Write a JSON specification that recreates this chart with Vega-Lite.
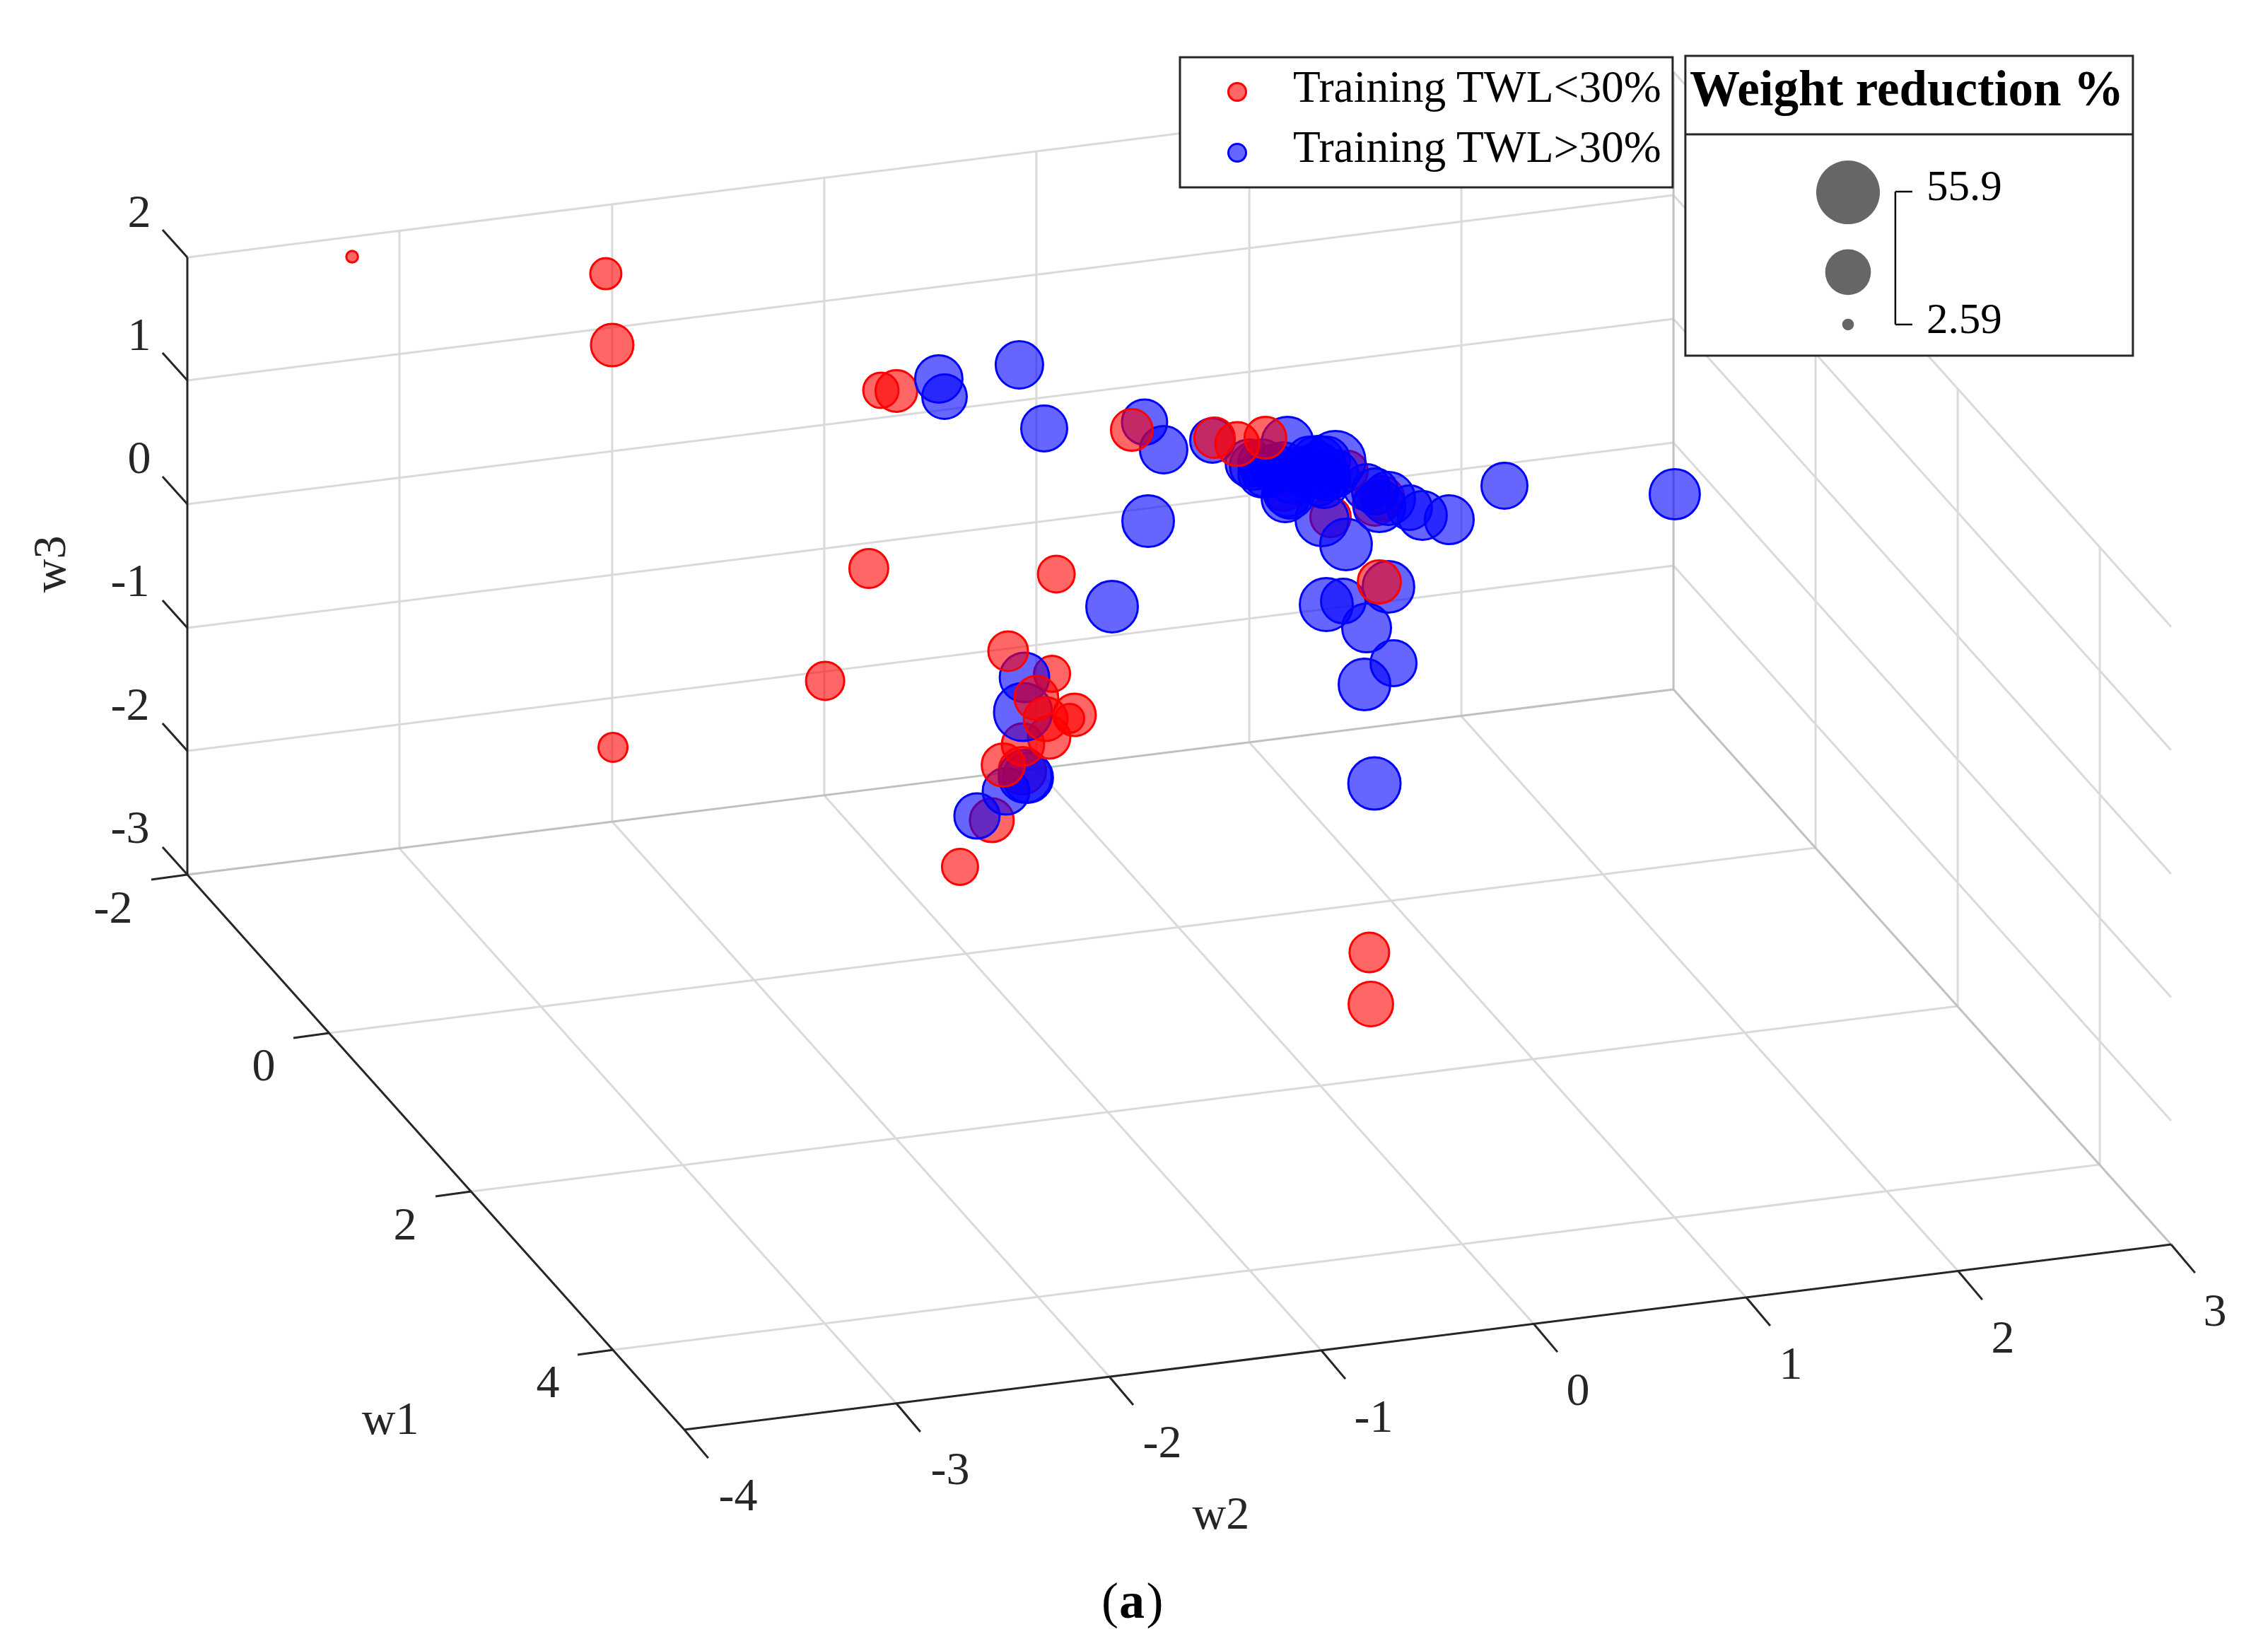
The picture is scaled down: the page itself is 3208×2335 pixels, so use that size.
{"$schema":"https://vega.github.io/schema/vega-lite/v6.json","width":3208,"height":2335,"autosize":{"type":"none"},"padding":0,"background":"white","config":{"view":{"stroke":null}},
"encoding":{"x":{"field":"u","type":"quantitative","scale":{"domain":[-4.8833,5.81],"nice":false,"zero":false},"axis":null},"y":{"field":"v","type":"quantitative","scale":{"domain":[-9.2743,4.0686],"nice":false,"zero":false},"axis":null}},
"layer":[
{"data":{"values":[
{"u":-4,"v":-2,"u2":3.007,"v2":-0.503},{"u":-4,"v":-1.006,"u2":3.007,"v2":0.491},{"u":-4,"v":-0.006,"u2":3.007,"v2":1.491},{"u":-4,"v":0.994,"u2":3.007,"v2":2.491},{"u":-4,"v":1.989,"u2":3.007,"v2":3.489},
{"u":-3,"v":-2.789,"u2":-3,"v2":2.206},{"u":-1.997,"v":-2.571,"u2":-1.997,"v2":2.417},{"u":-0.997,"v":-2.36,"u2":-0.997,"v2":2.634},{"u":0.003,"v":-2.143,"u2":0.003,"v2":2.846},{"u":1.007,"v":-1.931,"u2":1.007,"v2":3.063},{"u":2.007,"v":-1.72,"u2":2.007,"v2":3.274},
{"u":3.007,"v":-0.503,"u2":5.353,"v2":-4.989},{"u":3.007,"v":0.491,"u2":5.353,"v2":-3.992},{"u":3.007,"v":1.491,"u2":5.353,"v2":-2.994},{"u":3.007,"v":2.491,"u2":5.353,"v2":-1.994},{"u":3.007,"v":3.489,"u2":5.353,"v2":-0.997},
{"u":3.677,"v":-2.783,"u2":3.677,"v2":2.211},{"u":4.347,"v":-4.063,"u2":4.347,"v2":0.931},{"u":5.017,"v":-5.343,"u2":5.017,"v2":-0.349},
{"u":-3,"v":-2.789,"u2":-0.657,"v2":-7.274},{"u":-1.997,"v":-2.571,"u2":0.347,"v2":-7.057},{"u":-0.997,"v":-2.36,"u2":1.347,"v2":-6.846},{"u":0.003,"v":-2.143,"u2":2.347,"v2":-6.629},{"u":1.007,"v":-1.931,"u2":3.35,"v2":-6.417},{"u":2.007,"v":-1.72,"u2":4.35,"v2":-6.206},
{"u":-3.33,"v":-4.28,"u2":3.677,"v2":-2.783},{"u":-2.66,"v":-5.56,"u2":4.347,"v2":-4.063},{"u":-1.99,"v":-6.84,"u2":5.017,"v2":-5.343}
]},"mark":{"type":"rule","color":"#dadada","strokeWidth":3},"encoding":{"x2":{"field":"u2"},"y2":{"field":"v2"}}},
{"data":{"values":[{"u":-4,"v":-3,"u2":3.007,"v2":-1.503},{"u":3.007,"v":-1.503,"u2":5.353,"v2":-5.989},{"u":3.007,"v":-1.503,"u2":3.007,"v2":3.489}]},"mark":{"type":"rule","color":"#c0c0c0","strokeWidth":3},"encoding":{"x2":{"field":"u2"},"y2":{"field":"v2"}}},
{"data":{"values":[
{"u":-4,"v":-3,"u2":-4,"v2":1.989},{"u":-4,"v":-3,"u2":-1.657,"v2":-7.486},{"u":-1.657,"v":-7.486,"u2":5.353,"v2":-5.989},
{"u":-4,"v":-3,"u2":-4.117,"v2":-2.777},{"u":-4,"v":-2,"u2":-4.117,"v2":-1.777},{"u":-4,"v":-1.006,"u2":-4.117,"v2":-0.783},{"u":-4,"v":-0.006,"u2":-4.117,"v2":0.217},{"u":-4,"v":0.994,"u2":-4.117,"v2":1.217},{"u":-4,"v":1.989,"u2":-4.117,"v2":2.212},
{"u":-4,"v":-3,"u2":-4.17,"v2":-3.04},{"u":-3.33,"v":-4.28,"u2":-3.5,"v2":-4.32},{"u":-2.66,"v":-5.56,"u2":-2.83,"v2":-5.6},{"u":-1.99,"v":-6.84,"u2":-2.16,"v2":-6.88},
{"u":-1.657,"v":-7.486,"u2":-1.544,"v2":-7.715},{"u":-0.657,"v":-7.274,"u2":-0.544,"v2":-7.503},{"u":0.347,"v":-7.057,"u2":0.46,"v2":-7.286},{"u":1.347,"v":-6.846,"u2":1.46,"v2":-7.075},{"u":2.347,"v":-6.629,"u2":2.46,"v2":-6.858},{"u":3.35,"v":-6.417,"u2":3.463,"v2":-6.646},{"u":4.35,"v":-6.206,"u2":4.463,"v2":-6.435},{"u":5.353,"v":-5.989,"u2":5.466,"v2":-6.218}
]},"mark":{"type":"rule","color":"#262626","strokeWidth":3},"encoding":{"x2":{"field":"u2"},"y2":{"field":"v2"}}},
{"data":{"values":[
{"g":"TWL<30%","u":1.6,"v":0,"w":27.7},{"g":"TWL<30%","u":1.633,"v":0.04,"w":27.7},{"g":"TWL<30%","u":1.47,"v":0.263,"w":22.9},{"g":"TWL<30%","u":1.167,"v":0.109,"w":24.4},{"g":"TWL<30%","u":1.39,"v":-0.109,"w":22.9},
{"g":"TWL<30%","u":-3.223,"v":1.994,"w":2.59},{"g":"TWL<30%","u":-2.027,"v":1.857,"w":13.9},{"g":"TWL<30%","u":-1.997,"v":1.28,"w":25.2},{"g":"TWL<30%","u":-0.73,"v":0.914,"w":17.7},{"g":"TWL<30%","u":-0.657,"v":0.909,"w":24.4},{"g":"TWL<30%","u":-0.787,"v":-0.526,"w":21.3},{"g":"TWL<30%","u":-0.993,"v":-1.434,"w":20.6},{"g":"TWL<30%","u":-1.993,"v":-1.971,"w":12.2},{"g":"TWL<30%","u":-0.357,"v":-2.937,"w":18.4},{"g":"TWL<30%","u":0.097,"v":-0.571,"w":19.1},{"g":"TWL<30%","u":1.573,"v":-3.629,"w":22.1},{"g":"TWL<30%","u":1.58,"v":-4.046,"w":27.7},
{"g":"TWL<30%","u":-0.207,"v":-2.56,"w":26.9},{"g":"TWL<30%","u":-0.063,"v":-2.16,"w":31.3},{"g":"TWL<30%","u":0.077,"v":-1.377,"w":18.4},
{"g":"TWL>30%","u":-0.277,"v":-2.526,"w":28.6},{"g":"TWL>30%","u":-0.14,"v":-2.326,"w":30.4},{"g":"TWL>30%","u":-0.05,"v":-2.206,"w":39},{"g":"TWL>30%","u":-0.037,"v":-2.217,"w":35},
{"g":"TWL<30%","u":-0.06,"v":-1.949,"w":25.2},{"g":"TWL<30%","u":0.063,"v":-1.891,"w":25.2},
{"g":"TWL>30%","u":-0.06,"v":-1.686,"w":46.5},{"g":"TWL>30%","u":-0.053,"v":-1.406,"w":34.1},
{"g":"TWL<30%","u":-0.13,"v":-1.194,"w":22.1},{"g":"TWL<30%","u":0.003,"v":-1.571,"w":26.9},{"g":"TWL<30%","u":0.047,"v":-1.743,"w":26.9},{"g":"TWL<30%","u":0.183,"v":-1.709,"w":25.2},{"g":"TWL<30%","u":0.16,"v":-1.737,"w":12.2},{"g":"TWL<30%","u":-0.153,"v":-2.114,"w":26},
{"g":"TWL>30%","u":-0.457,"v":1.006,"w":31.3},{"g":"TWL>30%","u":-0.43,"v":0.863,"w":27.7},{"g":"TWL>30%","u":-0.077,"v":1.12,"w":31.3},{"g":"TWL>30%","u":0.04,"v":0.606,"w":29.5},{"g":"TWL>30%","u":0.513,"v":0.657,"w":28.6},{"g":"TWL>30%","u":0.603,"v":0.434,"w":31.3},{"g":"TWL>30%","u":0.833,"v":0.509,"w":27.7},{"g":"TWL>30%","u":0.53,"v":-0.143,"w":37},{"g":"TWL>30%","u":0.36,"v":-0.834,"w":37},{"g":"TWL>30%","u":2.21,"v":0.143,"w":29.5},{"g":"TWL>30%","u":3.013,"v":0.074,"w":35},{"g":"TWL>30%","u":1.95,"v":-0.131,"w":33.2},{"g":"TWL>30%","u":1.823,"v":-0.097,"w":33.2},{"g":"TWL>30%","u":1.763,"v":-0.034,"w":27.7},{"g":"TWL>30%","u":1.663,"v":0.04,"w":39},{"g":"TWL>30%","u":1.62,"v":-0.023,"w":37},{"g":"TWL>30%","u":1.56,"v":0.131,"w":29.5},{"g":"TWL>30%","u":1.6,"v":0.097,"w":29.5},{"g":"TWL>30%","u":1.413,"v":0.343,"w":49.9},{"g":"TWL>30%","u":1.187,"v":0.491,"w":37},{"g":"TWL>30%","u":1.35,"v":-0.131,"w":39},{"g":"TWL>30%","u":1.463,"v":-0.331,"w":37},{"g":"TWL>30%","u":1.663,"v":-0.674,"w":37},{"g":"TWL>30%","u":1.37,"v":-0.817,"w":39},{"g":"TWL>30%","u":1.45,"v":-0.789,"w":27.7},{"g":"TWL>30%","u":1.56,"v":-1.006,"w":33.2},{"g":"TWL>30%","u":1.687,"v":-1.291,"w":29.5},{"g":"TWL>30%","u":1.55,"v":-1.463,"w":37},{"g":"TWL>30%","u":1.597,"v":-2.263,"w":38},
{"g":"TWL>30%","u":1.007,"v":0.326,"w":31.3},{"g":"TWL>30%","u":1.067,"v":0.326,"w":31.3},{"g":"TWL>30%","u":1.127,"v":0.286,"w":31.3},{"g":"TWL>30%","u":1.087,"v":0.24,"w":31.3},{"g":"TWL>30%","u":1.027,"v":0.303,"w":31.3},{"g":"TWL>30%","u":1.067,"v":0.24,"w":31.3},{"g":"TWL>30%","u":1.167,"v":0.303,"w":31.3},{"g":"TWL>30%","u":1.247,"v":0.263,"w":31.3},{"g":"TWL>30%","u":1.33,"v":0.303,"w":31.3},{"g":"TWL>30%","u":1.35,"v":0.24,"w":31.3},{"g":"TWL>30%","u":1.37,"v":0.217,"w":31.3},{"g":"TWL>30%","u":1.33,"v":0.171,"w":31.3},{"g":"TWL>30%","u":1.41,"v":0.24,"w":31.3},{"g":"TWL>30%","u":1.29,"v":0.349,"w":31.3},{"g":"TWL>30%","u":1.37,"v":0.349,"w":31.3},{"g":"TWL>30%","u":1.207,"v":0.194,"w":31.3},{"g":"TWL>30%","u":1.36,"v":0.154,"w":31.3},{"g":"TWL>30%","u":1.187,"v":0.086,"w":31.3},{"g":"TWL>30%","u":1.177,"v":0.04,"w":31.3},{"g":"TWL>30%","u":1.2,"v":0.069,"w":31.3},{"g":"TWL>30%","u":1.33,"v":0.326,"w":41},
{"g":"TWL<30%","u":0.453,"v":0.594,"w":24.4},{"g":"TWL<30%","u":0.843,"v":0.531,"w":22.9},{"g":"TWL<30%","u":0.95,"v":0.48,"w":26.9},{"g":"TWL<30%","u":1.083,"v":0.531,"w":24.4},{"g":"TWL<30%","u":1.62,"v":-0.634,"w":26}
]},"mark":{"type":"circle","opacity":1,"fillOpacity":0.6,"strokeOpacity":1,"strokeWidth":3},"encoding":{"size":{"field":"w","type":"quantitative","scale":{"domain":[2.59,55.9],"range":[275,8100],"nice":false,"zero":false},"legend":null},"fill":{"field":"g","type":"nominal","scale":{"domain":["TWL<30%","TWL>30%"],"range":["#ff0000","#0000ff"]},"legend":null},"stroke":{"field":"g","type":"nominal","scale":{"domain":["TWL<30%","TWL>30%"],"range":["#ff0000","#0000ff"]},"legend":null}}},
{"data":{"values":[{"u":0.68,"v":3.606,"u2":3.003,"v2":2.554},{"u":3.063,"v":3.617,"u2":5.173,"v2":1.194}]},"mark":{"type":"rect","fill":"white","stroke":"#262626","strokeWidth":3},"encoding":{"x2":{"field":"u2"},"y2":{"field":"v2"}}},
{"data":{"values":[{"u":3.063,"v":2.983,"u2":5.173,"v2":2.983}]},"mark":{"type":"rule","color":"#262626","strokeWidth":3},"encoding":{"x2":{"field":"u2"},"y2":{"field":"v2"}}},
{"data":{"values":[{"u":4.053,"v":2.52,"u2":4.053,"v2":1.446},{"u":4.053,"v":2.52,"u2":4.133,"v2":2.52},{"u":4.053,"v":1.446,"u2":4.133,"v2":1.446}]},"mark":{"type":"rule","color":"#000000","strokeWidth":2.5},"encoding":{"x2":{"field":"u2"},"y2":{"field":"v2"}}},
{"data":{"values":[{"g":"TWL<30%","u":0.95,"v":3.326,"w":5},{"g":"TWL>30%","u":0.95,"v":2.834,"w":5}]},"mark":{"type":"circle","opacity":1,"fillOpacity":0.6,"strokeOpacity":1,"strokeWidth":3},"encoding":{"size":{"field":"w","type":"quantitative","scale":{"domain":[2.59,55.9],"range":[275,8100],"nice":false,"zero":false},"legend":null},"fill":{"field":"g","type":"nominal","scale":{"domain":["TWL<30%","TWL>30%"],"range":["#ff0000","#0000ff"]},"legend":null},"stroke":{"field":"g","type":"nominal","scale":{"domain":["TWL<30%","TWL>30%"],"range":["#ff0000","#0000ff"]},"legend":null}}},
{"data":{"values":[{"u":3.83,"v":2.514,"w":55.9},{"u":3.83,"v":1.869,"w":29.2},{"u":3.83,"v":1.446,"w":2.59}]},"mark":{"type":"circle","opacity":1,"color":"#666666"},"encoding":{"size":{"field":"w","type":"quantitative","scale":{"domain":[2.59,55.9],"range":[275,8100],"nice":false,"zero":false},"legend":null}}},
{"data":{"values":[
{"u":-4.227,"v":2.349,"t":"2"},{"u":-4.227,"v":1.354,"t":"1"},{"u":-4.227,"v":0.36,"t":"0"},{"u":-4.27,"v":-0.634,"t":"-1"},{"u":-4.27,"v":-1.634,"t":"-2"},{"u":-4.27,"v":-2.629,"t":"-3"},
{"u":-4.35,"v":-3.274,"t":"-2"},{"u":-3.64,"v":-4.549,"t":"0"},{"u":-2.973,"v":-5.834,"t":"2"},{"u":-2.3,"v":-7.109,"t":"4"},
{"u":-1.403,"v":-8.023,"t":"-4"},{"u":-0.403,"v":-7.811,"t":"-3"},{"u":0.597,"v":-7.594,"t":"-2"},{"u":1.593,"v":-7.389,"t":"-1"},{"u":2.557,"v":-7.171,"t":"0"},{"u":3.56,"v":-6.96,"t":"1"},{"u":4.56,"v":-6.749,"t":"2"},{"u":5.56,"v":-6.531,"t":"3"},
{"u":-3.043,"v":-7.406,"t":"w1"},{"u":0.873,"v":-8.171,"t":"w2"}
]},"mark":{"type":"text","font":"Liberation Serif","fontSize":66,"color":"#262626","align":"center","baseline":"middle"},"encoding":{"text":{"field":"t"}}},
{"data":{"values":[{"u":-4.643,"v":-0.491,"t":"w3"}]},"mark":{"type":"text","font":"Liberation Serif","fontSize":66,"color":"#262626","align":"center","baseline":"middle","angle":270},"encoding":{"text":{"field":"t"}}},
{"data":{"values":[{"u":0.35,"v":-8.88,"t":"("},{"u":0.562,"v":-8.88,"t":")"}]},"mark":{"type":"text","font":"Liberation Serif","fontSize":72,"color":"#000000","align":"center","baseline":"middle"},"encoding":{"text":{"field":"t"}}},
{"data":{"values":[{"u":0.453,"v":-8.88,"t":"a"}]},"mark":{"type":"text","font":"Liberation Serif","fontSize":72,"fontWeight":"bold","color":"#000000","align":"center","baseline":"middle"},"encoding":{"text":{"field":"t"}}},
{"data":{"values":[{"u":1.213,"v":3.245,"t":"Training TWL<30%"},{"u":1.213,"v":2.76,"t":"Training TWL>30%"}]},"mark":{"type":"text","font":"Liberation Serif","fontSize":63.5,"color":"#000000","align":"left","baseline":"alphabetic"},"encoding":{"text":{"field":"t"}}},
{"data":{"values":[{"u":4.2,"v":2.451,"t":"55.9"},{"u":4.2,"v":1.377,"t":"2.59"}]},"mark":{"type":"text","font":"Liberation Serif","fontSize":61,"color":"#000000","align":"left","baseline":"alphabetic"},"encoding":{"text":{"field":"t"}}},
{"data":{"values":[{"u":4.107,"v":3.215,"t":"Weight reduction %"}]},"mark":{"type":"text","font":"Liberation Serif","fontSize":71,"fontWeight":"bold","color":"#000000","align":"center","baseline":"alphabetic"},"encoding":{"text":{"field":"t"}}}
]}
